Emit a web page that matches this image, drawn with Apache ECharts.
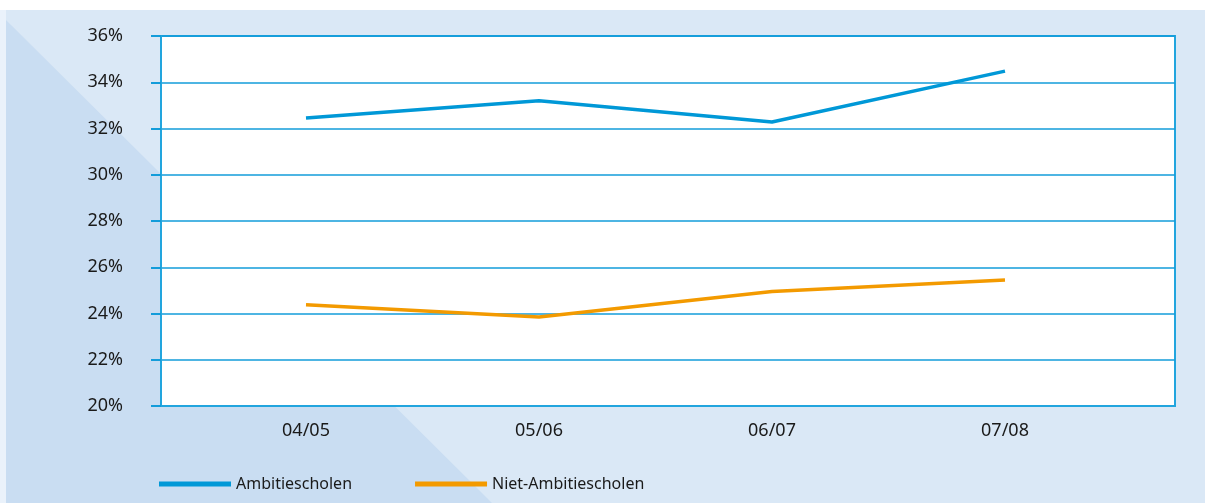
<!DOCTYPE html>
<html>
<head>
<meta charset="utf-8">
<script src="https://cdn.jsdelivr.net/npm/echarts@6/dist/echarts.min.js"></script>
<style>
html,body{margin:0;padding:0;background:#ffffff;}
#chart{width:1205px;height:503px;}
</style>
</head>
<body>
<div id="chart"></div>
<script>
var categories = ['04/05', '05/06', '06/07', '07/08'];
var ambitiescholen = [32.45, 33.2, 32.28, 34.48];
var nietAmbitiescholen = [24.38, 23.85, 24.95, 25.45];
var yTicks = [20, 22, 24, 26, 28, 30, 32, 34, 36];

var FONT = '"Noto Sans", sans-serif';
var chart = echarts.init(document.getElementById('chart'));

function toPoints(arr) {
  return arr.map(function (v, i) { return [i + 1, v]; });
}

var option = {
  animation: false,
  textStyle: { fontFamily: FONT },
  graphic: [
    { type: 'rect', z: -10, silent: true, shape: { x: 0, y: 0, width: 1205, height: 503 }, style: { fill: '#ffffff' } },
    { type: 'rect', z: -9, silent: true, shape: { x: 0, y: 10, width: 6, height: 493 }, style: { fill: '#eaf2fb' } },
    { type: 'rect', z: -9, silent: true, shape: { x: 6, y: 10, width: 1199, height: 493 }, style: { fill: '#dae8f6' } },
    { type: 'polygon', z: -8, silent: true, shape: { points: [[6, 20], [6, 503], [492, 503]] }, style: { fill: '#c9ddf2' } }
  ],
  grid: {
    left: 161, right: 30, top: 36, bottom: 97,
    show: true, backgroundColor: '#ffffff', borderColor: '#22a5de', borderWidth: 2
  },
  legend: {
    left: 154, top: 471,
    icon: 'rect', itemWidth: 72, itemHeight: 5, itemGap: 63,
    textStyle: { fontFamily: FONT, fontSize: 16, color: '#1a1a1a' },
    data: ['Ambitiescholen', 'Niet-Ambitiescholen']
  },
  xAxis: {
    type: 'value',
    min: 1 - 145 / 233,
    max: 4 + 170 / 233,
    axisLine: { show: true, lineStyle: { color: '#22a5de', width: 2 } },
    axisTick: { show: false },
    splitLine: { show: false },
    axisLabel: {
      customValues: [1, 2, 3, 4],
      margin: 16,
      fontFamily: FONT, fontSize: 18, color: '#1a1a1a',
      formatter: function (v) { return categories[Math.round(v) - 1] || ''; }
    }
  },
  yAxis: {
    type: 'value',
    min: 20, max: 36, interval: 2,
    axisLine: { show: true, lineStyle: { color: '#22a5de', width: 2 } },
    axisTick: { show: true, length: 10, lineStyle: { color: '#139cda', width: 2 } },
    splitLine: { show: true, lineStyle: { color: '#139cda', width: 1.5 } },
    axisLabel: {
      margin: 38,
      fontFamily: FONT, fontSize: 18, color: '#1a1a1a',
      formatter: function (v) { return yTicks.indexOf(v) >= 0 ? v + '%' : ''; }
    }
  },
  series: [
    {
      name: 'Ambitiescholen', type: 'line', showSymbol: false,
      color: '#0098d7',
      lineStyle: { width: 3.5, color: '#0098d7' },
      data: toPoints(ambitiescholen)
    },
    {
      name: 'Niet-Ambitiescholen', type: 'line', showSymbol: false,
      color: '#f39a00',
      lineStyle: { width: 3.5, color: '#f39a00' },
      data: toPoints(nietAmbitiescholen)
    }
  ]
};
chart.setOption(option);
</script>
</body>
</html>
